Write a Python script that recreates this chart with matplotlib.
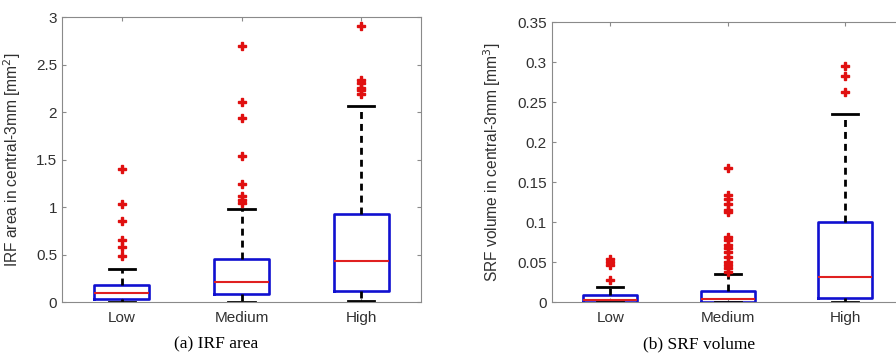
import matplotlib.pyplot as plt

# categories
groups = ["Low", "Medium", "High"]

# (a) IRF area [mm^2] - box stats
irf_q1 = [0.035, 0.084, 0.123]
irf_med = [0.095, 0.218, 0.44]
irf_q3 = [0.18, 0.456, 0.926]
irf_lo = [0.0, 0.0, 0.018]
irf_hi = [0.35, 0.98, 2.067]
irf_out = [
    [1.40, 1.04, 0.86, 0.66, 0.58, 0.49],
    [2.70, 2.105, 1.94, 1.545, 1.25, 1.12, 1.08, 1.05],
    [2.905, 2.34, 2.305, 2.26, 2.23, 2.19],
]

# (b) SRF volume [mm^3]
srf_q1 = [0.0, 0.0, 0.006]
srf_med = [0.003, 0.004, 0.032]
srf_q3 = [0.00875, 0.0146, 0.100]
srf_lo = [0.0, 0.0, 0.0]
srf_hi = [0.0188, 0.035, 0.235]
srf_out = [
    [0.054, 0.051, 0.047, 0.028],
    [0.1675, 0.134, 0.129, 0.123, 0.115, 0.1125, 0.082, 0.078, 0.072,
     0.0675, 0.063, 0.057, 0.051, 0.047, 0.0425, 0.038],
    [0.295, 0.283, 0.263],
]

plt.rcParams['font.family'] = ['Liberation Sans', 'DejaVu Sans']

fig = plt.figure(figsize=(8.96, 3.54), dpi=100)
ax1 = fig.add_axes([0.0692, 0.146, 0.4007, 0.805])
ax2 = fig.add_axes([0.6157, 0.146, 0.3929, 0.791])


def make_stats(q1, med, q3, lo, hi, out):
    stats = []
    for i in range(len(groups)):
        stats.append({'q1': q1[i], 'med': med[i], 'q3': q3[i],
                      'whislo': lo[i], 'whishi': hi[i], 'fliers': out[i],
                      'label': groups[i]})
    return stats


def draw(ax, stats, ymax, yticks, ylabel, labelx):
    ax.bxp(stats, widths=0.46, capwidths=0.22,
           boxprops=dict(color='#1010d0', lw=1.9),
           medianprops=dict(color='#e02020', lw=1.5),
           whiskerprops=dict(color='black', lw=2.0, linestyle=(0, (2.5, 1.8))),
           capprops=dict(color='black', lw=2.0),
           flierprops=dict(marker='P', markerfacecolor='#e01010',
                           markeredgecolor='#e01010', markersize=5.5,
                           linestyle='none'))
    ax.set_xlim(0.5, 3.5)
    ax.set_ylim(0, ymax)
    ax.set_yticks(yticks)
    ax.set_yticklabels([('%g' % t) for t in yticks])
    ax.set_ylabel(ylabel, fontsize=11.2, color='#303030')
    ax.yaxis.set_label_coords(labelx, 0.5)
    ax.tick_params(direction='in', length=3, top=True, right=True,
                   labelsize=11, colors='#8a8a8a', labelcolor='#303030')
    ax.tick_params(axis='x', pad=6)
    for s in ax.spines.values():
        s.set_color('#8a8a8a')
        s.set_linewidth(0.8)


draw(ax1, make_stats(irf_q1, irf_med, irf_q3, irf_lo, irf_hi, irf_out),
     3, [0, 0.5, 1, 1.5, 2, 2.5, 3],
     'IRF area in central-3mm [mm$^2$]', -0.109)
draw(ax2, make_stats(srf_q1, srf_med, srf_q3, srf_lo, srf_hi, srf_out),
     0.35, [0, 0.05, 0.1, 0.15, 0.2, 0.25, 0.3, 0.35],
     'SRF volume in central-3mm [mm$^3$]', -0.138)

fig.text(216 / 896, 2 / 354, '(a) IRF area', ha='center', va='bottom',
         fontsize=12.5, family=['Liberation Serif', 'DejaVu Serif'])
fig.text(699 / 896, 2 / 354, '(b) SRF volume', ha='center', va='bottom',
         fontsize=12.5, family=['Liberation Serif', 'DejaVu Serif'])

fig.savefig('out.png', dpi=100)
